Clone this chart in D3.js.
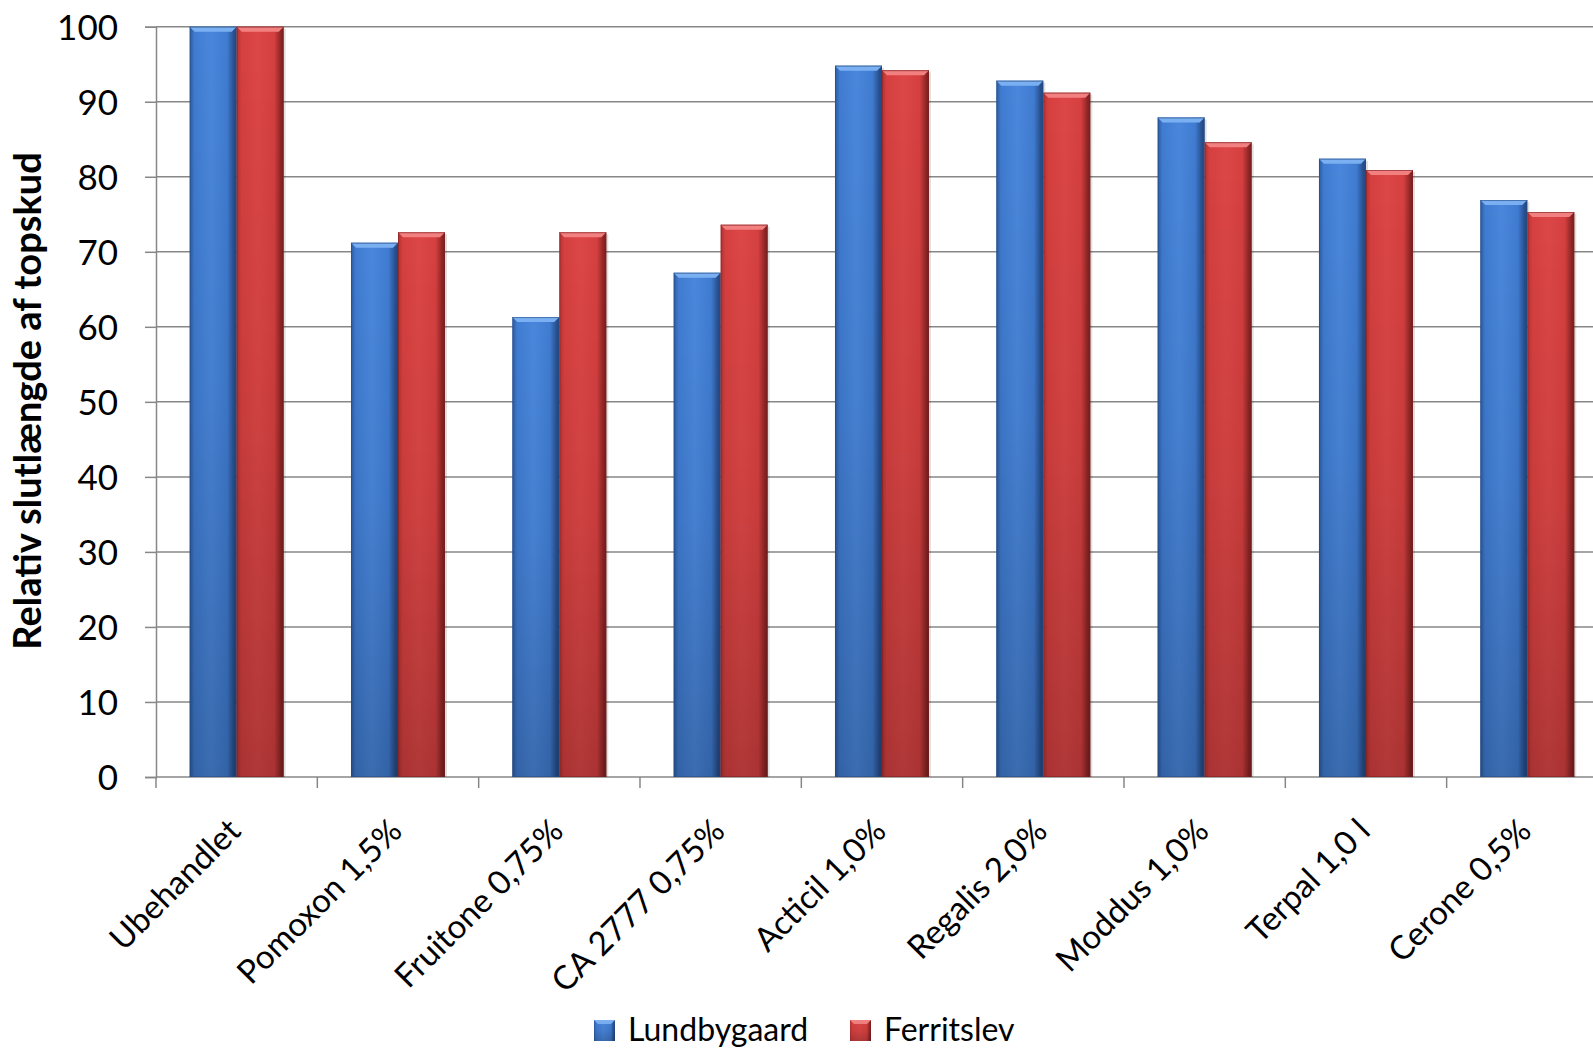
<!DOCTYPE html>
<html>
<head>
<meta charset="utf-8">
<script src="https://cdn.jsdelivr.net/npm/d3@7/dist/d3.min.js"></script>
<style>
html,body{margin:0;padding:0;background:#fff;}
svg{display:block;}
text{font-family:Lato,"Open Sans",sans-serif;fill:#000;}
</style>
</head>
<body>
<svg id="chart" width="1593" height="1050"></svg>
<script>
const categories = ["Ubehandlet","Pomoxon 1,5%","Fruitone 0,75%","CA 2777 0,75%","Acticil 1,0%","Regalis 2,0%","Moddus 1,0%","Terpal 1,0 l","Cerone 0,5%"];
const seriesNames = ["Lundbygaard","Ferritslev"];
const lundbygaard = [100, 71.2, 61.3, 67.2, 94.8, 92.8, 87.9, 82.4, 76.9];
const ferritslev  = [100, 72.6, 72.6, 73.6, 94.2, 91.2, 84.6, 80.9, 75.3];
const yTicks = [0,10,20,30,40,50,60,70,80,90,100];
const yTitle = "Relativ slutlængde af topskud";

const seriesValues = [lundbygaard, ferritslev];
const palette = {
  Lundbygaard: {edgeL:"#2c5a9f", mid:"#3f7bd0", light:"#4a87dc", edgeR:"#284f8e", bevel:"#7ab0f2", stroke:"#24497f"},
  Ferritslev:  {edgeL:"#b03232", mid:"#d53f3f", light:"#dc4646", edgeR:"#8e2525", bevel:"#f28080", stroke:"#7a1f1f"}
};

const svg = d3.select("#chart");
const plotLeft = 156, plotTop = 26.7, plotBottom = 777;
const step = 161.33;
const plotRight = plotLeft + step * categories.length;

const x0 = d3.scaleBand().domain(categories).range([plotLeft, plotRight]).paddingInner(0).paddingOuter(0);
const x1 = d3.scaleBand().domain(seriesNames).range([0, x0.bandwidth()]).paddingInner(0).paddingOuter(0.716);
const y = d3.scaleLinear().domain([0, 100]).range([plotBottom, plotTop]);

// defs: gradients
const defs = svg.append("defs");
seriesNames.forEach((s, i) => {
  const p = palette[s];
  const g = defs.append("linearGradient").attr("id", "h" + i).attr("x1", 0).attr("x2", 1).attr("y1", 0).attr("y2", 0);
  [[0, p.edgeL], [0.1, p.mid], [0.45, p.light], [0.8, p.mid], [0.94, p.edgeR], [1, p.stroke]].forEach(([o, c]) =>
    g.append("stop").attr("offset", o).attr("stop-color", c));
});
const vg = defs.append("linearGradient").attr("id", "vshade").attr("x1", 0).attr("x2", 0).attr("y1", 0).attr("y2", 1);
vg.append("stop").attr("offset", 0).attr("stop-color", "#000").attr("stop-opacity", 0);
vg.append("stop").attr("offset", 0.5).attr("stop-color", "#000").attr("stop-opacity", 0.06);
vg.append("stop").attr("offset", 1).attr("stop-color", "#000").attr("stop-opacity", 0.2);

// gridlines
svg.append("g").selectAll("line").data(yTicks.filter(d => d > 0)).join("line")
  .attr("x1", plotLeft).attr("x2", 1700)
  .attr("y1", d => y(d)).attr("y2", d => y(d))
  .attr("stroke", "#878787").attr("stroke-width", 1.5);

// y axis
const yAxis = d3.axisLeft(y).tickValues(yTicks).tickSize(11).tickPadding(27).tickFormat(d3.format("d"));
const gy = svg.append("g").attr("transform", `translate(${plotLeft},0)`).call(yAxis);
gy.select(".domain").attr("stroke", "#878787").attr("stroke-width", 1.5);
gy.selectAll(".tick line").attr("stroke", "#878787").attr("stroke-width", 1.5);
gy.selectAll(".tick text").attr("font-size", 35).attr("font-family", "Lato,sans-serif").attr("fill", "#000").attr("dy", "0.36em");

// x axis
const xAxis = d3.axisBottom(x0).tickSize(0).tickFormat("");
const gx = svg.append("g").attr("transform", `translate(0,${plotBottom})`).call(xAxis);
gx.select(".domain").attr("stroke", "#878787").attr("stroke-width", 1.5).attr("d", `M${plotLeft},0H1700`);
gx.append("g").selectAll("line").data(categories).join("line")
  .attr("x1", d => x0(d)).attr("x2", d => x0(d))
  .attr("y1", 0).attr("y2", 11)
  .attr("stroke", "#878787").attr("stroke-width", 1.5);

// bars
const groups = svg.append("g").selectAll("g").data(categories).join("g")
  .attr("transform", d => `translate(${x0(d)},0)`);
seriesNames.forEach((s, si) => {
  const p = palette[s];
  const vals = seriesValues[si];
  const bw = x1.bandwidth();
  groups.each(function(cat, ci) {
    const g = d3.select(this);
    const v = vals[ci];
    const bx = x1(s), by = y(v), bh = y(0) - y(v);
    g.append("rect").attr("x", bx + 2).attr("y", by + 2).attr("width", bw).attr("height", bh - 2)
      .attr("fill", "#000").attr("opacity", 0.12);
    g.append("rect").attr("x", bx).attr("y", by).attr("width", bw).attr("height", bh)
      .attr("fill", `url(#h${si})`);
    g.append("rect").attr("x", bx).attr("y", by).attr("width", bw).attr("height", bh)
      .attr("fill", "url(#vshade)");
    g.append("rect").attr("x", bx + 0.5).attr("y", by + 0.5).attr("width", bw - 1).attr("height", bh - 1)
      .attr("fill", "none").attr("stroke", p.stroke).attr("stroke-opacity", 0.5).attr("stroke-width", 1);
    const bev = 5;
    g.append("polygon")
      .attr("points", [[bx, by], [bx + bw, by], [bx + bw - bev, by + bev], [bx + bev, by + bev]].map(q => q.join(",")).join(" "))
      .attr("fill", p.bevel);
    g.append("line").attr("x1", bx).attr("x2", bx + bw).attr("y1", by + 0.5).attr("y2", by + 0.5)
      .attr("stroke", p.stroke).attr("stroke-opacity", 0.6);
  });
});

// category labels
svg.append("g").selectAll("text").data(categories).join("text")
  .attr("transform", d => `translate(${x0(d) + x0.bandwidth() / 2 + 6},${plotBottom + 56}) rotate(-45)`)
  .attr("text-anchor", "end")
  .attr("font-size", 33)
  .text(d => d);

// y title
svg.append("text")
  .attr("transform", `translate(41,401) rotate(-90)`)
  .attr("text-anchor", "middle")
  .attr("font-size", 38)
  .attr("font-weight", "bold")
  .text(yTitle);

// legend
const legendX = [594, 850];
const lg = svg.append("g").selectAll("g").data(seriesNames).join("g")
  .attr("transform", (d, i) => `translate(${legendX[i]},1020)`);
lg.append("rect").attr("width", 21).attr("height", 21).attr("fill", (d, i) => `url(#h${i})`);
lg.append("polygon").attr("points", "0,0 21,0 17,4 4,4").attr("fill", d => palette[d].bevel);
lg.append("rect").attr("width", 21).attr("height", 21).attr("fill", "url(#vshade)");
lg.append("text").attr("x", 34).attr("y", 21).attr("font-size", 32).text(d => d);
</script>
</body>
</html>
